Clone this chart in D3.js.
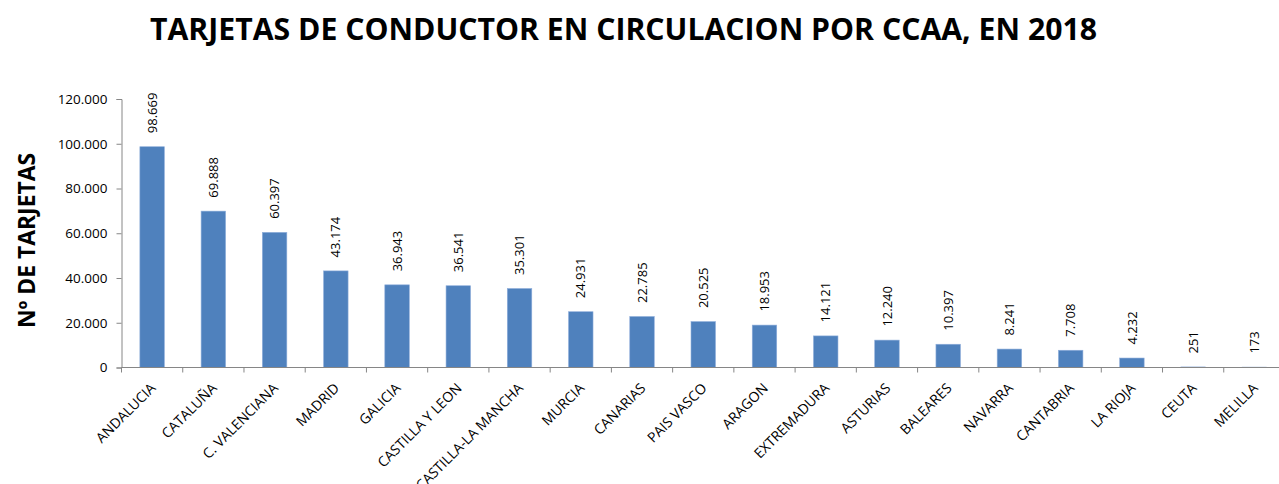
<!DOCTYPE html>
<html>
<head>
<meta charset="utf-8">
<script src="https://cdn.jsdelivr.net/npm/d3@7"></script>
<style>
  body { margin: 0; background: #fff; }
  svg { display: block; }
</style>
</head>
<body>
<svg id="chart" width="1279" height="484"></svg>
<script>
// Driver cards in circulation by autonomous community, 2018
const regions = ["ANDALUCIA", "CATALUÑA", "C. VALENCIANA", "MADRID", "GALICIA",
  "CASTILLA Y LEON", "CASTILLA-LA MANCHA", "MURCIA", "CANARIAS", "PAIS VASCO",
  "ARAGON", "EXTREMADURA", "ASTURIAS", "BALEARES", "NAVARRA", "CANTABRIA",
  "LA RIOJA", "CEUTA", "MELILLA"];
const cards = [98669, 69888, 60397, 43174, 36943, 36541, 35301, 24931, 22785,
  20525, 18953, 14121, 12240, 10397, 8241, 7708, 4232, 251, 173];
const yTicks = [0, 20000, 40000, 60000, 80000, 100000, 120000];

const fmt = d3.formatLocale({ decimal: ",", thousands: ".", grouping: [3], currency: ["", "€"] }).format(",d");

const svg = d3.select("#chart");
const plotLeft = 121.5, plotRight = 1285, plotTop = 99, plotBottom = 367.5;

const x = d3.scaleBand().domain(regions).range([plotLeft, plotRight]).paddingInner(0.6).paddingOuter(0.3);
const y = d3.scaleLinear().domain([0, 120000]).range([plotBottom, plotTop]);

const font = "'Open Sans', 'Liberation Sans', sans-serif";

// title
svg.append("text")
  .attr("x", 623.5).attr("y", 39.5)
  .attr("text-anchor", "middle")
  .attr("textLength", 947)
  .attr("lengthAdjust", "spacingAndGlyphs")
  .style("font-family", font)
  .style("font-weight", "bold")
  .style("font-size", "30px")
  .attr("fill", "#000")
  .text("TARJETAS DE CONDUCTOR EN CIRCULACION POR CCAA, EN 2018");

// y axis title
svg.append("text")
  .attr("transform", "translate(35,240.5) rotate(-90)")
  .attr("text-anchor", "middle")
  .attr("textLength", 175)
  .attr("lengthAdjust", "spacingAndGlyphs")
  .style("font-family", font)
  .style("font-weight", "bold")
  .style("font-size", "23px")
  .attr("fill", "#000")
  .text("Nº DE TARJETAS");

// y axis
const yAxis = svg.append("g")
  .attr("transform", `translate(${plotLeft},0)`)
  .call(d3.axisLeft(y).tickValues(yTicks).tickFormat(fmt).tickSize(5).tickPadding(9));
yAxis.select(".domain").attr("stroke", "#868686");
yAxis.selectAll(".tick line").attr("stroke", "#868686");
yAxis.selectAll(".tick text")
  .style("font-family", font).style("font-size", "13.5px").attr("fill", "#000");

// bars
svg.append("g").selectAll("rect")
  .data(cards)
  .join("rect")
  .attr("x", (d, i) => x(regions[i]))
  .attr("y", d => y(d))
  .attr("width", x.bandwidth())
  .attr("height", d => plotBottom - y(d))
  .attr("fill", "#4F81BD")
  .attr("stroke", "#8FAEDB")
  .attr("stroke-width", 0.6);

// value labels
svg.append("g").selectAll("text")
  .data(cards)
  .join("text")
  .attr("transform", (d, i) => `translate(${x(regions[i]) + x.bandwidth() / 2 + 4.6},${y(d) - 13.5}) rotate(-90)`)
  .attr("text-anchor", "start")
  .style("font-family", font)
  .style("font-size", "13px")
  .attr("fill", "#000")
  .text(d => fmt(d));

// x axis with category ticks on band boundaries
const xAxisG = svg.append("g");
xAxisG.append("line")
  .attr("x1", plotLeft).attr("x2", plotRight)
  .attr("y1", plotBottom).attr("y2", plotBottom)
  .attr("stroke", "#868686");
const bounds = d3.range(regions.length + 1).map(i => plotLeft + i * x.step());
xAxisG.selectAll("line.t")
  .data(bounds)
  .join("line")
  .attr("class", "t")
  .attr("x1", d => d).attr("x2", d => d)
  .attr("y1", plotBottom).attr("y2", plotBottom + 5)
  .attr("stroke", "#868686");

xAxisG.selectAll("text")
  .data(regions)
  .join("text")
  .attr("transform", d => `translate(${x(d) + x.bandwidth() / 2 + 1},${plotBottom + 18}) rotate(-45)`)
  .attr("text-anchor", "end")
  .attr("dy", "0.35em")
  .style("font-family", font)
  .style("font-size", "14px")
  .attr("fill", "#000")
  .text(d => d);
</script>
</body>
</html>
